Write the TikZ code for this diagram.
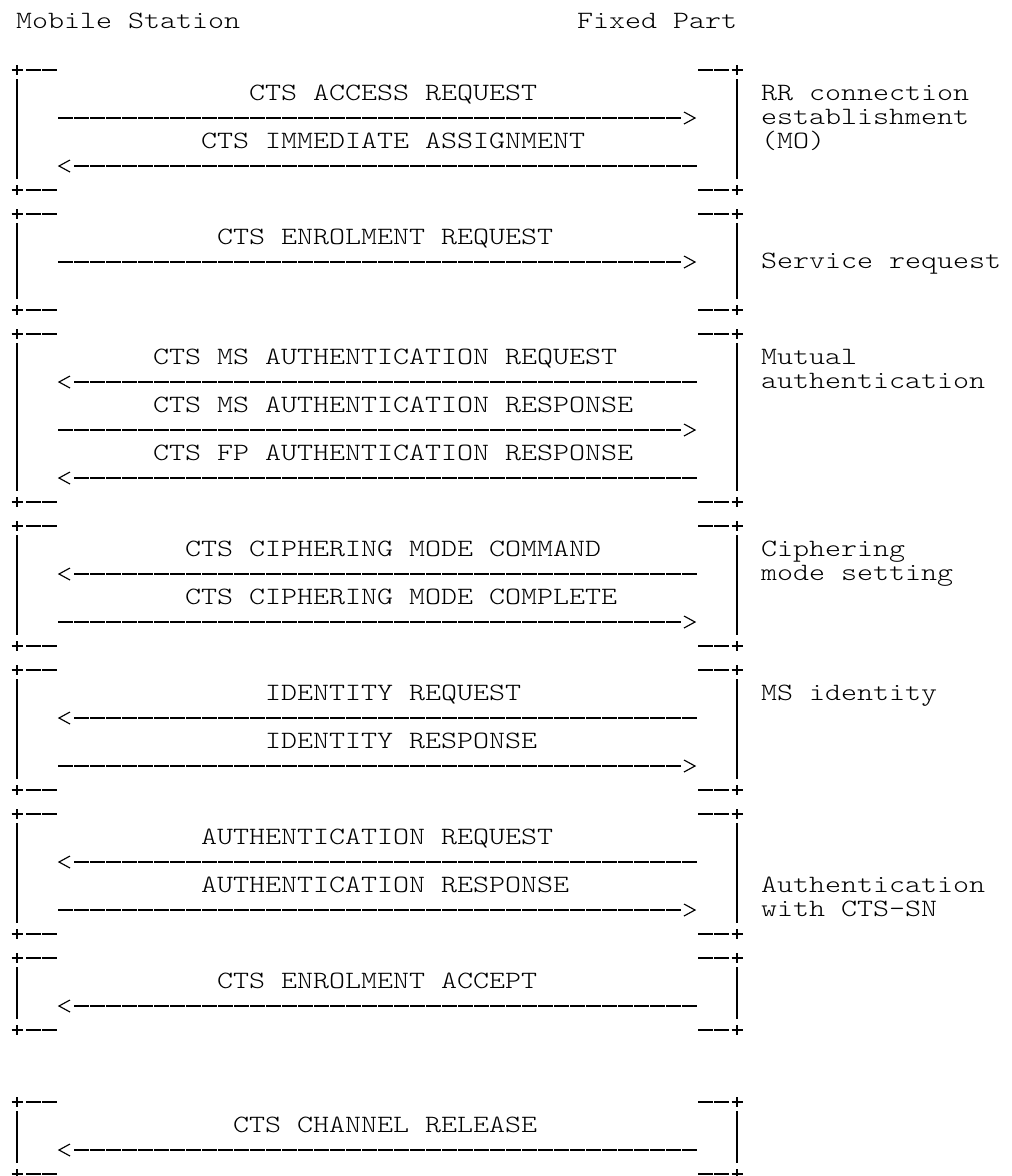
\documentclass[tikz,border=0pt]{standalone}
\usepackage{fontspec}
\newfontfamily\cour{lmmonolt10-regular.otf}[FakeStretch=1.224]
\tikzset{
  txt/.style={inner sep=0pt, anchor=base west, font=\cour\fontsize{24.9pt}{24pt}\selectfont},
  shaft/.style={line width=2pt, dash pattern=on 14.7pt off 1.3pt},
  hair/.style={line width=1.15pt},
}
% right-pointing message: name, label row, label column, text
\newcommand\msgR[4]{%
  \node[txt] (#1) at ({9+16*#3},{70+24*#2+6}) {#4};
  \coordinate (#1-s) at (58,{70+24*(#2+1)});
  \coordinate (#1-e) at (680.7,{70+24*(#2+1)});
  \draw[shaft] (#1-s) -- (#1-e);
  \draw[hair] ([shift={(3.3,-6)}]#1-e) -- ([shift={(14.3,0)}]#1-e) -- ([shift={(3.3,6)}]#1-e);
}
% left-pointing message
\newcommand\msgL[4]{%
  \node[txt] (#1) at ({9+16*#3},{70+24*#2+6}) {#4};
  \coordinate (#1-s) at (74,{70+24*(#2+1)});
  \coordinate (#1-e) at (696.7,{70+24*(#2+1)});
  \draw[shaft] (#1-s) -- (#1-e);
  \draw[hair] ([shift={(-4,-6)}]#1-s) -- ([shift={(-15,0)}]#1-s) -- ([shift={(-4,6)}]#1-s);
}
% plus sign at a coordinate
\newcommand\plusat[1]{%
  \draw[hair] ([shift={(-5.5,0)}]#1) -- ([shift={(5.5,0)}]#1)
              ([shift={(0,-5)}]#1) -- ([shift={(0,5)}]#1);
}
% bracket frame: name, top row, bottom row
\newcommand\bx[3]{%
  \coordinate (#1-tl) at (17,{70+24*#2});
  \coordinate (#1-bl) at (17,{70+24*#3});
  \coordinate (#1-tr) at (737,{70+24*#2});
  \coordinate (#1-br) at (737,{70+24*#3});
  \plusat{#1-tl}\plusat{#1-bl}\plusat{#1-tr}\plusat{#1-br}
  \draw[shaft] ([shift={(9,0)}]#1-tl) -- ([shift={(39.7,0)}]#1-tl);
  \draw[shaft] ([shift={(9,0)}]#1-bl) -- ([shift={(39.7,0)}]#1-bl);
  \draw[shaft] ([shift={(-39,0)}]#1-tr) -- ([shift={(-8.3,0)}]#1-tr);
  \draw[shaft] ([shift={(-39,0)}]#1-br) -- ([shift={(-8.3,0)}]#1-br);
  \draw[hair] ([shift={(0,9)}]#1-tl) -- ([shift={(0,-11)}]#1-bl);
  \draw[hair] ([shift={(0,9)}]#1-tr) -- ([shift={(0,-11)}]#1-br);
}
\newcommand\side[3]{\node[txt] (#1) at (761,{70+24*#2+6}) {#3};}
\begin{document}
\begin{tikzpicture}[x=1pt,y=-1pt]
\useasboundingbox (0,0) rectangle (1012,1176);
\node[txt] (ms) at (16,28) {Mobile Station};
\node[txt] (fp) at (577,28) {Fixed Part};

\bx{b1}{0}{5}
\msgR{m1}{1}{15}{CTS ACCESS REQUEST}
\msgL{m2}{3}{12}{CTS IMMEDIATE ASSIGNMENT}
\side{r1}{1}{RR connection}
\side{r2}{2}{establishment}
\side{r3}{3}{(MO)}

\bx{b2}{6}{10}
\msgR{m3}{7}{13}{CTS ENROLMENT REQUEST}
\side{r4}{8}{Service request}

\bx{b3}{11}{18}
\msgL{m4}{12}{9}{CTS MS AUTHENTICATION REQUEST}
\msgR{m5}{14}{9}{CTS MS AUTHENTICATION RESPONSE}
\msgL{m6}{16}{9}{CTS FP AUTHENTICATION RESPONSE}
\side{r5}{12}{Mutual}
\side{r6}{13}{authentication}

\bx{b4}{19}{24}
\msgL{m7}{20}{11}{CTS CIPHERING MODE COMMAND}
\msgR{m8}{22}{11}{CTS CIPHERING MODE COMPLETE}
\side{r7}{20}{Ciphering}
\side{r8}{21}{mode setting}

\bx{b5}{25}{30}
\msgL{m9}{26}{16}{IDENTITY REQUEST}
\msgR{m10}{28}{16}{IDENTITY RESPONSE}
\side{r9}{26}{MS identity}

\bx{b6}{31}{36}
\msgL{m11}{32}{12}{AUTHENTICATION REQUEST}
\msgR{m12}{34}{12}{AUTHENTICATION RESPONSE}
\side{r10}{34}{Authentication}
\side{r11}{35}{with CTS-SN}

\bx{b7}{37}{40}
\msgL{m13}{38}{13}{CTS ENROLMENT ACCEPT}

\bx{b8}{43}{46}
\msgL{m14}{44}{14}{CTS CHANNEL RELEASE}
\end{tikzpicture}
\end{document}
